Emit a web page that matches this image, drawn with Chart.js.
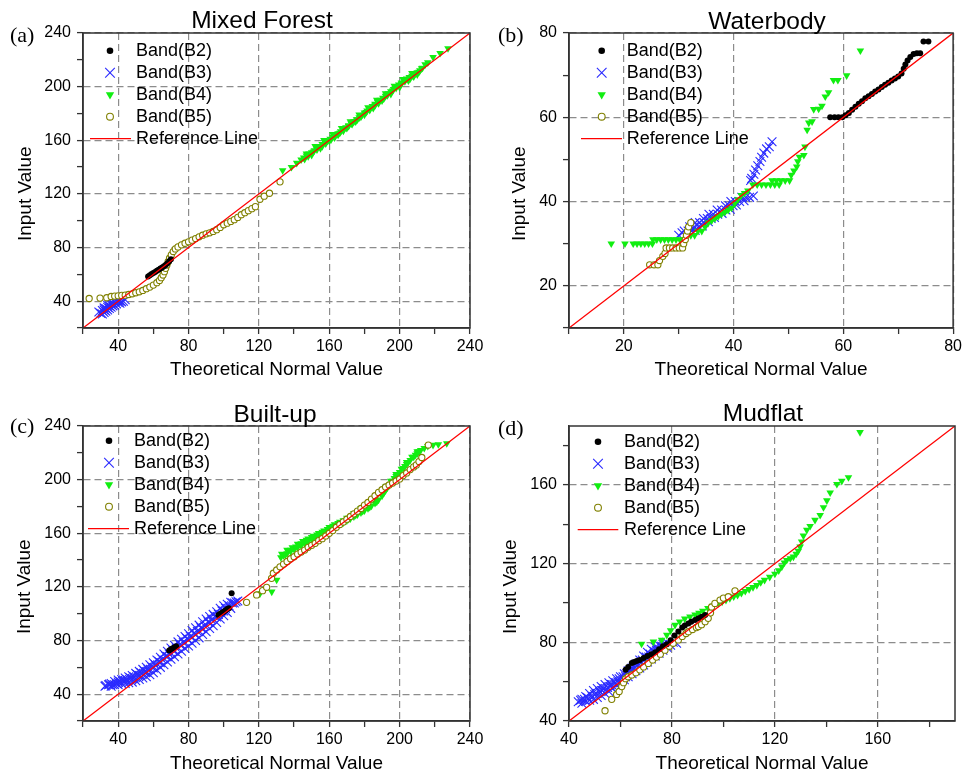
<!DOCTYPE html>
<html>
<head>
<meta charset="utf-8">
<script src="https://cdn.jsdelivr.net/npm/chart.js@4"></script>
<style>
  body { margin: 0; background: #fff; }
  #wrap { position: relative; width: 965px; height: 776px; overflow: hidden; }
  #wrap canvas { position: absolute; }
</style>
</head>
<body>
<div id="wrap">
  <canvas id="qqA" width="490" height="388" style="left:0;top:0"></canvas>
  <canvas id="qqB" width="483" height="388" style="left:482px;top:0"></canvas>
  <canvas id="qqC" width="490" height="388" style="left:0;top:388px"></canvas>
  <canvas id="qqD" width="483" height="388" style="left:482px;top:388px"></canvas>
</div>
<script>
// legend labels, shared by all four panels
const bandLabels = ['Band(B2)', 'Band(B3)', 'Band(B4)', 'Band(B5)', 'Reference Line'];

// tick labels
const forestTicks = [40, 80, 120, 160, 200, 240];
const waterTicks = [20, 40, 60, 80];
const builtTicks = [40, 80, 120, 160, 200, 240];
const mudTicks = [40, 80, 120, 160];

// (a) Mixed Forest  [theoretical, input]
const forestB2 = [[57,58.5],[58,59.3],[59,60.2],[60,61],[61,61.8],[62,62.7],[63,63.5],[64,64.3],[65,65.2],[66,66],[67,67],[68,68.3],[69,69.8],[70,71.2]];
const forestB3 = [[29,32],[30,31],[31,30.5],[32,31.5],[31,33],[32,33.5],[33,32.5],[33,34.5],[34,33.5],[34,35.5],[35,34.5],[35,36.5],[36,35.5],[36,37.5],[37,36.5],[37,38.5],[38,37],[38,39.5],[39,38],[40,39],[40,40.5],[41,38.5],[41,40],[42,39.5],[43,40],[44,41],[32,35],[34,37],[36,39],[39,41]];
const forestB4 = [[133.5,137.5],[138.5,140],[141.5,143],[144,145.5],[145.5,147],[147,148.5],[148.5,150],[150,151],[151.5,152.5],[153,154],[154.5,155.5],[156,157],[157.5,158.5],[159,159.5],[160.5,161],[162,162.5],[163.5,163.5],[165,165],[166.5,166.5],[168,168],[169.5,169.5],[171,171],[172.5,172.5],[174,174],[175.5,175.5],[177,177],[178.5,178.5],[180,180.5],[181.5,182],[183,183.5],[184.5,185.5],[186,187],[187.5,188.5],[189,190],[190.5,191.5],[192,193],[193.5,195],[195,196.5],[196.5,198],[198,200],[199.5,201.5],[201,203],[202.5,204.5],[204,206],[205.5,207],[207,208],[208.5,209],[210,210.5],[211.5,212],[213,214],[214.5,216.5],[216,218],[219,222],[223,225],[227.5,228.5],
  [147,150],[152,155.5],[157,160],[162,164.5],[167,169],[172,174],[177,179],[182,184.5],[187,190],[192,195],[197,200.5],[202,205.5],[207,210],[150,149],[155,154],[160,159.5],[165,164],[170,169],[175,174],[180,179],[185,184],[190,189.5],[195,194.5],[200,199.5],[205,204.5],[210,209],
  [146,146],[148,148],[151,151.5],[153,153],[156,155.5],[158,157.5],[161,160.5],[163,162],[166,165.5],[168,167],[171,170.5],[173,172],[176,175.5],[178,177.5],[181,181],[183,182.5],[186,186],[188,187.5],[191,191],[193,193.5],[196,197],[198,199],[201,202],[203,204],[206,206],[208,207.5],[211,211],[212.5,213.5]];
const forestB5 = [[23.5,42],[29.7,42.3],[33.5,42.6],[36,43.5],[38,43.8],[40,44],[42,44.3],[44,44.5],[46,45],[48,45.5],[50,46.3],[52,47],[54,48],[56,49.3],[58,50.5],[60,52],[62,53.8],[63.5,55.5],[64.5,57.5],[65.5,59.5],[66.3,62],[67,64.5],[67.7,67],[68.4,69.5],[69.2,72],[70.2,74.5],[71.3,77],[72.5,79],[74,80.5],[76,82],[78,83.2],[80,84.3],[82,85.5],[84,86.7],[86,88],[88,89.2],[90,90.2],[92,91],[94,92],[96,93.3],[98,95],[100,97],[102,98.2],[104,99.5],[106,100.8],[108,102.5],[110,104.5],[112,106],[114,107.5],[116,109],[118,110.5],[120.6,116],[123,118.3],[126,120.5],[132,129]];
const forestRef = [[20,20],[240,240]];

// (b) Waterbody
const waterB2 = [[57.6,60],[58.4,60],[59.1,60],[59.8,60],[60.4,60.5],[61,61],[61.6,61.8],[62.2,62.5],[62.8,63.2],[63.4,63.8],[64,64.5],[64.6,65],[65.2,65.5],[65.8,66.1],[66.4,66.6],[67,67.2],[67.6,67.7],[68.2,68.2],[68.8,68.7],[69.4,69.2],[70,69.7],[70.6,70.4],[71,71.5],[71.3,72.5],[71.7,73.5],[72.2,74.3],[72.8,75],[73.4,75.2],[74,75.2],[74.6,78],[75.5,78]];
const waterB3 = [[30,32],[30.6,32.6],[31,33],[31.7,33],[32.4,33],[33,33.2],[32,34],[32.8,34],[33.6,34],[34.3,34.2],[33,35],[33.8,35],[34.6,35],[35.4,35.2],[34.5,36],[35.2,36],[35.9,36],[36.5,36.2],[35.5,37],[36.3,37],[37.1,37],[37.9,37.2],[37,38],[37.8,38],[38.6,38],[39.4,38.2],[38.5,39],[39.2,39],[39.9,39],[40.5,39.2],[39.5,40],[40.3,40],[41.1,40],[41.9,40.2],[41.5,41],[42.2,41],[42.9,41],[43.6,41.3],[43.1,45],[43.3,45.5],[43.7,46.5],[44,47.5],[44.4,48.5],[44.8,49.5],[45.1,50.5],[45.5,51.5],[46,52.5],[46.5,53],[47,54.2]];
const waterB4 = [[17.7,30],[20.2,30],[21.7,30],[22.4,30],[23.1,30],[23.8,30],[24.5,30],[25.2,30],[25.3,31],[26,31],[26.7,31],[27.4,31],[28.1,31],[28.8,31],[29.5,31],[30.2,31],[30.9,31],[31.5,32],[32.2,32],[32.9,32],[33.5,33],[34.2,33],[34.8,34],[35.4,35],[36,35.5],[36.6,36],[37.2,36.5],[37.8,37],[38.4,37.5],[39,38],[39.6,38.5],[40.2,39.5],[40.8,40.5],[41.4,41.5],[42,42],[42.6,42.6],[43.5,44],[44.3,44],[45.1,44],[45.9,44],[46.7,44],[47.5,44],[48.3,44],[47,45],[47.8,45],[48.6,45],[49.4,45],[50.2,45],[50.5,46.3],[51,47.3],[51.5,48.3],[51.7,49.5],[52,50.6],[52.8,51],[53,53],[53.4,57],[53.7,58.7],[54.3,59],[54.6,61.9],[55.5,62],[56.1,62.7],[56.7,64.9],[57.3,65.9],[58.2,68.8],[59,68.8],[60.6,69.9],[63.1,75.8]];
const waterB5 = [[24.7,25],[25.5,25],[26.2,25],[26.5,26],[27.1,27],[27.5,27.7],[27.7,29],[28.3,29],[28.9,29],[29.5,29],[30.1,29],[30.7,29],[30.9,30],[31.2,31],[31.4,32],[31.6,33],[31.8,34],[32.2,35]];
const waterRef = [[10,10],[80,80]];

// (c) Built-up
const builtB2 = [[69,72.5],[70,73.5],[71,74.2],[72,75],[73,75.8],[97,99],[98,100],[99,100.8],[100,101.5],[101,102.5],[102,103.5],[103,104],[104.5,115.2]];
const builtB3 = [[32.5,46],[34.5,47],[36,46],[36,48],[38,47],[38,49.5],[40,47],[40,50.5],[42,48],[42,51],[44,48],[44,52],[46,48.5],[46,53],[48,49],[48,54],[50,50],[50,55.5],[52,51],[52,57],[54,52],[54,58.5],[56,53],[56,60],[58,54.5],[58,62],[60,56],[60,63.5],[62,58],[62,65.5],[64,60],[64,67.5],[66,62],[66,70],[68,64],[68,72],[70,66],[70,74.5],[72,68],[72,76.5],[74,70],[74,79],[76,72],[76,81],[78,74],[78,83],[80,76],[80,85],[82,78],[82,87.5],[84,80],[84,89.5],[86,82],[86,91.5],[88,84.5],[88,94],[90,86.5],[90,96],[92,89],[92,98],[94,91],[94,99.5],[96,93.5],[96,101.5],[98,96],[98,104],[100,98.5],[100,106],[102,101],[102,107],[104,104],[104,108.5],[106,108],[108,109.5],
  [40,49],[44,50],[48,51.5],[52,54],[56,56.5],[60,59.5],[64,63.5],[68,68],[72,72],[76,76.5],[80,80.5],[84,84.5],[88,89],[92,93.5],[96,97.5],[100,102],
  [33,46.5],[35,47.5],[37,47],[39,48],[41,49.5],[43,50.5],[45,51],[47,52],[49,53],[51,54.5],[53,56],[55,57],[57,58.5],[59,60.5],[61,62],[63,64.5],[65,66],[67,68.5],[69,70],[71,73],[73,74.5],[75,77],[77,78.5],[79,81.5],[81,83],[83,85.5],[85,87],[87,89.5],[89,91],[91,94],[93,95.5],[95,98],[97,99.5],[99,102],[101,104],[103,106],[105,108],[107,109]];
const builtB4 = [[120.6,115],[127.3,116.4],[130.1,125.2],[132.5,142],[134,143.5],[136,145],[138,146.5],[140,148],[142,149.5],[144,151],[146,152.5],[148,154],[150,155.5],[152,157],[154,158],[156,159.5],[158,161],[160,162.5],[162,164],[164,165.5],[166,167],[168,168],[170,169.5],[172,171],[174,172.5],[176,174],[178,175.5],[180,177],[182,178.5],[184,180.5],[186,182.5],[188,185],[190,188],[192,192],[194,195.5],[196,199],[198,202.5],[200,205.5],[202,208.5],[204,211.5],[206,214.5],[208,217],[210,219.5],[212,222],[214,223.5],[216,225],[219,225.8],[222,226.3],[226.8,227],
  [133,144.5],[136,147.5],[139,149.5],[142,152],[145,154],[148,156],[151,158],[154,160],[157,162],[160,164.5],[163,166.5],[166,168.5],[170,171.5],[174,175],[178,178.5],[182,182],[186,186],[189,190],[192,194.5],[195,199],[198,204],[201,208],[204,213],[207,217],[210,221],
  [135,144],[138,147.5],[141,150],[144,152.5],[147,155],[150,157],[153,159],[156,161],[159,163],[162,165.5],[165,167.5],[168,169.5],[171,170.5],[175,173.5],[179,176.5],[183,179.5],[187,183.5],[191,190],[193,194],[197,201],[199,204],[203,210],[205,213],[209,218.5],[211,221]];
const builtB5 = [[113,108.5],[118.7,114],[122.1,117.2],[124.4,119.7],[127.2,126.4],[128.2,130.2],[130.1,132.6],[132,135],[134,137],[136,139],[138,141],[140,142.5],[142,144.5],[144,146],[146,147.5],[148,149.5],[150,151],[152,152.5],[154,154.5],[156,156],[158,158],[160,160],[162,162],[164,164.5],[166,166.5],[168,168.5],[170,170.5],[172,172.5],[174,174.5],[176,176.5],[178,178.5],[180,181],[182,183],[184,185.5],[186,188],[188,190.5],[190,192.5],[192,194.5],[194,196],[196,197.5],[198,199],[200,200.5],[202,203],[204,205],[206,207.5],[208,209.5],[209.5,211],[211,213.5],[212.6,216.5],[216.3,225.8]];
const builtRef = [[20,20],[240,240]];

// (d) Mudflat
const mudB2 = [[62,66],[63,67.5],[64.4,69.5],[65.3,70],[66.3,70.5],[67.5,71],[69,72],[70.5,73],[72,74],[73.5,75],[75,76.5],[76.5,78],[78,79],[79.5,81],[81,83.5],[82.5,85.5],[84,87.5],[85,88.5],[86.4,89.6],[87.5,90.5],[89,91.3],[90.3,92.3],[91.6,93],[92.9,93.9]];
const mudB3 = [[43.6,49.8],[45,49],[45,51],[46.5,50],[46.5,52.5],[48,50.5],[48,54],[49.5,51],[49.5,55.5],[51,52],[51,56.5],[52.5,53],[52.5,57.5],[54,54],[54,58.5],[55.5,55],[55.5,59.5],[57,56.5],[57,60.5],[58.5,58],[58.5,61.5],[60,59.5],[60,62.5],[61.5,61],[61.5,64],[63,62.5],[63,65.5],[64.5,64],[64.5,67],[66,65.5],[66,69],[67.5,67],[67.5,71],[69,68.5],[69,73],[70.5,70],[70.5,75],[72,71.5],[72,76.5],[73.5,73],[73.5,77.5],[75,74.5],[75,78.5],[76.5,76],[76.5,79],[78,77.5],[78,80],[79.5,78.5],[80.5,80],[81.8,79.5],
  [47,52],[50,53.5],[53,55.5],[56,57.5],[59,60],[62,62.5],[65,66],[68,69.5],[71,72.5],[74,76],
  [44.5,50.5],[46,51],[47.5,51.5],[49,52.5],[50.5,54],[52,55],[53.5,56.5],[55,57],[56.5,58.5],[58,59.5],[59.5,61.5],[61,62.5],[62.5,64],[64,65.5],[65.5,67.5],[67,69],[68.5,71],[70,72.5],[71.5,74],[73,75.5],[74.5,77],[76,78],[77.5,79]];
const mudB4 = [[68.2,79.2],[72.8,80.3],[76,81.2],[78,83.7],[79.5,86],[81.2,88.8],[83,90.5],[85,92],[87,93],[89,94],[90.5,95],[92,96],[94,97.3],[96,98.5],[98,99.8],[99.5,100.6],[101,101.5],[102.5,102.4],[104,103.2],[105.5,104],[107,105],[108.5,106],[110,107],[111.5,108],[113,109],[114.5,110.5],[116,111.7],[118,113.2],[120,114.8],[121.5,116.5],[122.7,118.4],[123.7,120.5],[124.6,121.8],[126,122.7],[127.2,123.5],[128.3,125],[129.1,126.5],[129.8,128.6],[130.4,131.2],[131.1,134.2],[132.4,137.1],[133.7,139.1],[135.6,142.2],[137.6,144.7],[138.9,148.6],[140.2,152.1],[141.5,156.1],[144.1,160.4],[146,162],[148.6,163.9],[153.1,186.8]];
const mudB5 = [[54,45.2],[56.6,51],[58.5,53.5],[59.5,55],[60.5,57.5],[61.2,59.5],[62,61.5],[63,62.5],[64.4,63.4],[66,64.5],[67.5,66],[69,67.5],[70.8,69.3],[72.5,71],[74,72.5],[75.5,74],[77.3,76],[79,78],[80.5,79.5],[82.5,81.2],[84,83],[85.5,84.5],[86.4,85.4],[88,86.5],[89.5,87.5],[90.3,88],[91.5,89],[92.9,90.5],[94.1,92.2],[95,95],[95.4,98],[96.7,99.8],[98.7,101.5],[100,102.5],[101.9,103.2],[104.5,106.2]];
const mudRef = [[40,40],[190,190]];

Chart.defaults.font.family = '"Liberation Sans", Arial, sans-serif';
Chart.defaults.color = '#000';

const seriesStyles = [
  { pointStyle: 'circle', pointRadius: 3, backgroundColor: '#000', borderColor: '#000', borderWidth: 0 },
  { pointStyle: 'crossRot', pointRadius: 6.2, backgroundColor: '#2a2aff', borderColor: '#2a2aff', borderWidth: 1.1 },
  { pointStyle: 'triangle', pointRotation: 180, pointRadius: 4.4, backgroundColor: '#11ee11', borderColor: '#11ee11', borderWidth: 0 },
  { pointStyle: 'circle', pointRadius: 3.1, backgroundColor: '#fff', borderColor: '#808000', borderWidth: 1.1 },
  { showLine: true, pointRadius: 0, backgroundColor: '#ff0000', borderColor: '#ff0000', borderWidth: 1.3 }
];
// lower order is drawn on top
const drawOrder = [1, 4, 3, 2, 0];

const panels = [
  { canvas: 'qqA', tag: '(a)', title: 'Mixed Forest', range: [20, 240], step: 20, labels: forestTicks,
    series: [forestB2, forestB3, forestB4, forestB5, forestRef],
    padTop: 33, padRight: 20, yAxisW: 83, xAxisH: 60, xTitlePad: 6.6, yTitlePad: 14.3,
    titleX: 262, titleY: 28, tagX: 10, tagY: 41.7, legend: { y: 17.7, line: [7, 48], symbol: 27, text: 53 } },
  { canvas: 'qqB', tag: '(b)', title: 'Waterbody', range: [10, 80], step: 10, labels: waterTicks,
    series: [waterB2, waterB3, waterB4, waterB5, waterRef],
    padTop: 33, padRight: 10, yAxisW: 87, xAxisH: 60, xTitlePad: 7.3, yTitlePad: 26.1,
    titleX: 285, titleY: 29.3, tagX: 16, tagY: 41.7, legend: { y: 17.7, line: [12, 53], symbol: 32.7, text: 57.7 } },
  { canvas: 'qqC', tag: '(c)', title: 'Built-up', range: [20, 240], step: 20, labels: builtTicks,
    series: [builtB2, builtB3, builtB4, builtB5, builtRef],
    padTop: 38, padRight: 20, yAxisW: 83, xAxisH: 55, xTitlePad: 1.3, yTitlePad: 13.6,
    titleX: 275, titleY: 33.7, tagX: 10, tagY: 44.7, legend: { y: 14.7, line: [5, 46], symbol: 26, text: 51 } },
  { canvas: 'qqD', tag: '(d)', title: 'Mudflat', range: [40, 190], step: 20, labels: mudTicks,
    series: [mudB2, mudB3, mudB4, mudB5, mudRef],
    padTop: 38, padRight: 10, yAxisW: 87, xAxisH: 55, xTitlePad: 1.3, yTitlePad: 17.1,
    titleX: 281, titleY: 32.7, tagX: 16, tagY: 47, legend: { y: 15.7, line: [8.7, 49.3], symbol: 29, text: 55 } }
];

function simplePoint(ctx, o, x, y) {
  ctx.beginPath();
  ctx.arc(x, y, o.radius, 0, Math.PI * 2);
  ctx.fill();
  if (o.borderWidth > 0) ctx.stroke();
}
const drawPoint = (Chart.helpers && Chart.helpers.drawPoint) || simplePoint;

// frame, panel title, (a)-(d) tag and the in-plot legend
function decor(p) {
  return {
    id: 'decor',
    afterDraw(chart) {
      const { ctx, chartArea: a } = chart;
      ctx.save();
      ctx.strokeStyle = '#333';
      ctx.lineWidth = 1.5;
      ctx.strokeRect(a.left, a.top, a.right - a.left, a.bottom - a.top);

      ctx.fillStyle = '#000';
      ctx.textBaseline = 'alphabetic';
      ctx.textAlign = 'center';
      ctx.font = '24.5px "Liberation Sans", Arial, sans-serif';
      ctx.fillText(p.title, p.titleX, p.titleY);
      ctx.textAlign = 'left';
      ctx.font = '22px "Liberation Serif", "Times New Roman", serif';
      ctx.fillText(p.tag, p.tagX, p.tagY);

      ctx.font = '18px "Liberation Sans", Arial, sans-serif';
      ctx.textBaseline = 'middle';
      chart.data.datasets.forEach((ds, i) => {
        const y = a.top + p.legend.y + i * 22;
        if (ds.showLine) {
          ctx.strokeStyle = ds.borderColor;
          ctx.lineWidth = ds.borderWidth;
          ctx.beginPath();
          ctx.moveTo(a.left + p.legend.line[0], y);
          ctx.lineTo(a.left + p.legend.line[1], y);
          ctx.stroke();
        } else {
          ctx.fillStyle = ds.backgroundColor;
          ctx.strokeStyle = ds.borderColor;
          ctx.lineWidth = ds.borderWidth;
          drawPoint(ctx, { pointStyle: ds.pointStyle, rotation: ds.pointRotation || 0,
            radius: ds.pointRadius * 1.1, borderWidth: ds.borderWidth }, a.left + p.legend.symbol, y);
        }
        ctx.fillStyle = '#000';
        ctx.fillText(ds.label, a.left + p.legend.text, y);
      });
      ctx.restore();
    }
  };
}

function axis(p, dir) {
  const isX = dir === 'x';
  return {
    type: 'linear',
    min: p.range[0],
    max: p.range[1],
    afterFit(scale) {
      if (isX) scale.height = p.xAxisH; else scale.width = p.yAxisW;
    },
    ticks: {
      stepSize: p.step,
      maxTicksLimit: 40,
      includeBounds: false,
      autoSkip: false,
      maxRotation: 0,
      padding: isX ? 3 : 6,
      color: '#000',
      font: { size: 16 },
      callback: v => p.labels.includes(v) ? String(v) : ''
    },
    grid: {
      color: c => (c.tick && p.labels.includes(c.tick.value)) ? '#8c8c8c' : 'rgba(0,0,0,0)',
      lineWidth: 1.2,
      tickLength: 6,
      tickColor: '#333',
      tickWidth: 1.3
    },
    border: { display: true, color: '#333', width: 1.5, dash: [7, 4] },
    title: isX
      ? { display: true, text: 'Theoretical Normal Value', color: '#000', font: { size: 19 },
          padding: { top: 0, bottom: p.xTitlePad } }
      : { display: true, text: 'Input Value     ', color: '#000', font: { size: 19 },
          padding: { top: p.yTitlePad, bottom: 0 } }
  };
}

panels.forEach(p => {
  const datasets = p.series.map((pts, i) => Object.assign({
    label: bandLabels[i],
    data: pts.map(([x, y]) => ({ x, y })),
    order: drawOrder[i]
  }, seriesStyles[i]));

  new Chart(document.getElementById(p.canvas), {
    type: 'scatter',
    data: { datasets },
    options: {
      responsive: false,
      animation: false,
      events: [],
      layout: { padding: { top: p.padTop, right: p.padRight, left: 0, bottom: 0 } },
      plugins: { legend: { display: false }, tooltip: { enabled: false } },
      scales: { x: axis(p, 'x'), y: axis(p, 'y') }
    },
    plugins: [decor(p)]
  });
});
</script>
</body>
</html>
